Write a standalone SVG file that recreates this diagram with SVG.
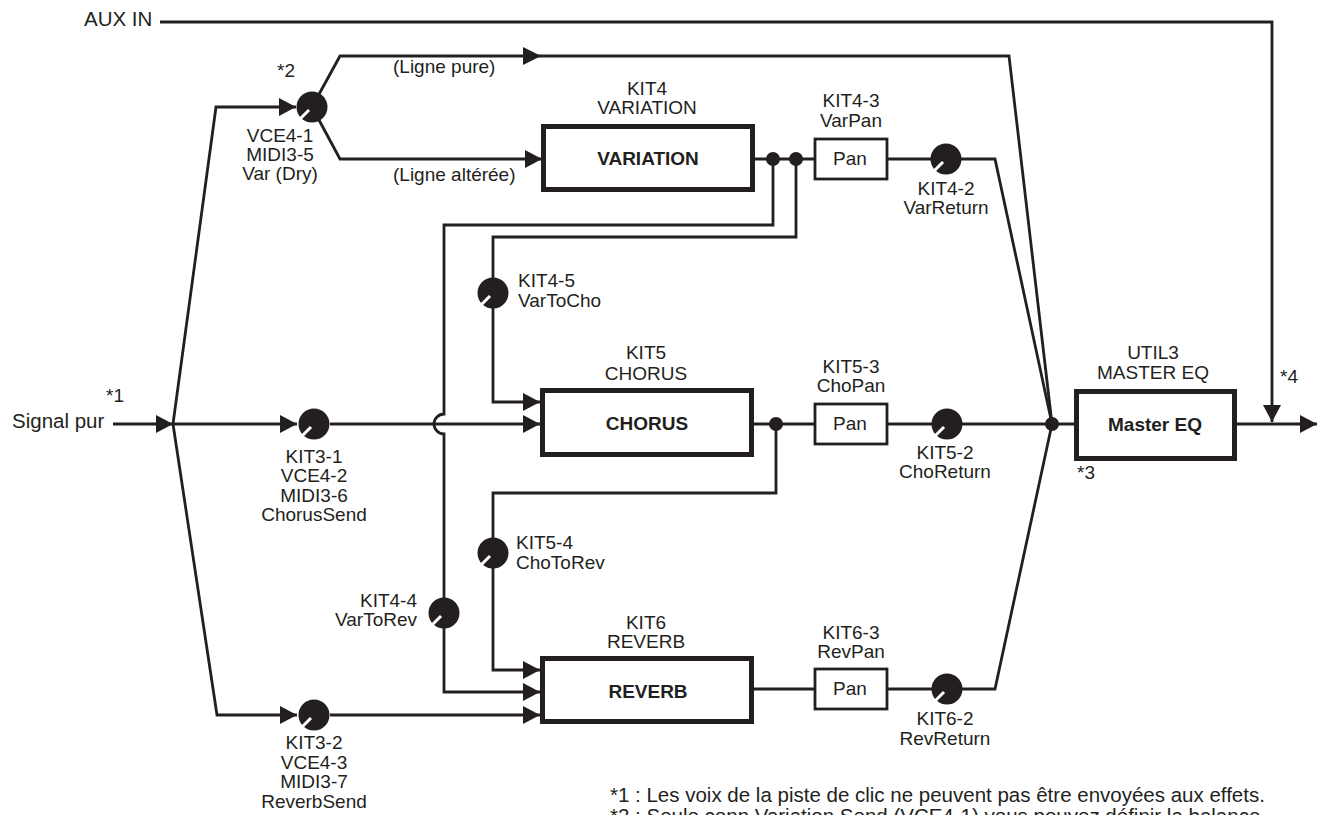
<svg xmlns="http://www.w3.org/2000/svg" width="1323" height="815" viewBox="0 0 1323 815">
<style>
text{font-family:"Liberation Sans",Arial,Helvetica,sans-serif;font-size:19px;fill:#231f20}
.big{font-size:20.5px}
.c{text-anchor:middle}
.e{text-anchor:end}
.b{font-weight:bold;font-size:19px}
.ln{fill:none;stroke:#231f20;stroke-width:2.8;stroke-linejoin:miter}
.box{fill:#fff;stroke:#231f20;stroke-width:5}
.pan{fill:#fff;stroke:#231f20;stroke-width:2.8}
.dot{fill:#231f20}
.knob{fill:#231f20}
.tick{stroke:#fff;stroke-width:3;stroke-linecap:butt}
</style>
<defs>
<marker id="ah" markerUnits="userSpaceOnUse" markerWidth="18" markerHeight="18" refX="17" refY="9" orient="auto" viewBox="0 0 18 18">
<path d="M0,0 L17,9 L0,18 z" fill="#231f20"/>
</marker>
<g id="knobShape">
<circle r="15.5" class="knob"/>
<line x1="-3" y1="3" x2="-12" y2="12" class="tick"/>
</g>
</defs>
<rect width="1323" height="815" fill="#fff"/>

<g id="connectors">
<path class="ln" d="M160,22 H1272 V422" marker-end="url(#ah)"/>
<path class="ln" d="M113,424 H173" marker-end="url(#ah)"/>
<path class="ln" d="M173,424 H297" marker-end="url(#ah)"/>
<path class="ln" d="M173,424 L216,107 H296" marker-end="url(#ah)"/>
<path class="ln" d="M173,424 L217,715 H297" marker-end="url(#ah)"/>
<path class="ln" d="M312,107 L340,56 H1009 L1052,424"/>
<path d="M523,47 L541,56 L523,65 z" fill="#231f20"/>
<path class="ln" d="M312,107 L340,159 H542" marker-end="url(#ah)"/>
<path class="ln" d="M755,159 H815"/>
<path class="ln" d="M887,159 H995 L1052,424"/>
<path class="ln" d="M773,159 V225 H444 V414 A10,10 0 0 0 444,434 V692 H540" marker-end="url(#ah)"/>
<path class="ln" d="M796,159 V237 H493 V402 H540" marker-end="url(#ah)"/>
<path class="ln" d="M330,424 H540" marker-end="url(#ah)"/>
<path class="ln" d="M753,424 H815"/>
<path class="ln" d="M887,424 H1074"/>
<path class="ln" d="M776,424 V493 H493 V670 H540" marker-end="url(#ah)"/>
<path class="ln" d="M330,715 H540" marker-end="url(#ah)"/>
<path class="ln" d="M753,689 H815"/>
<path class="ln" d="M887,689 H995 L1052,424"/>
<path class="ln" d="M1237,424 H1317" marker-end="url(#ah)"/>
<circle cx="773" cy="159" r="7" class="dot"/>
<circle cx="796" cy="159" r="7" class="dot"/>
<circle cx="776" cy="424" r="7" class="dot"/>
<circle cx="1052" cy="424" r="7" class="dot"/>
</g>

<g id="aux-in"><text class="big" x="84" y="26">AUX IN</text></g>
<g id="signal-pur"><text class="big" x="12" y="428">Signal pur</text><text x="106" y="402">*1</text></g>

<g id="knob-var-dry">
<use href="#knobShape" x="312" y="107"/>
<text class="c" x="286" y="77">*2</text>
<text class="c" x="280" y="142">VCE4-1</text>
<text class="c" x="280" y="161">MIDI3-5</text>
<text class="c" x="280" y="180">Var (Dry)</text>
</g>
<g id="labels-lines">
<text x="393" y="73">(Ligne pure)</text>
<text x="393" y="181">(Ligne altérée)</text>
</g>

<g id="variation">
<rect class="box" x="543.5" y="126.5" width="209" height="63"/>
<text class="c b" x="648" y="165">VARIATION</text>
<text class="c" x="647" y="95">KIT4</text>
<text class="c" x="647" y="114">VARIATION</text>
</g>
<g id="var-pan">
<rect class="pan" x="815" y="139" width="72" height="40"/>
<text class="c" x="850" y="165">Pan</text>
<text class="c" x="851" y="107">KIT4-3</text>
<text class="c" x="851" y="127">VarPan</text>
</g>
<g id="knob-var-return">
<use href="#knobShape" x="946" y="159"/>
<text class="c" x="946" y="195">KIT4-2</text>
<text class="c" x="946" y="214">VarReturn</text>
</g>
<g id="knob-var-to-cho">
<use href="#knobShape" x="493" y="293"/>
<text x="518" y="287">KIT4-5</text>
<text x="518" y="307">VarToCho</text>
</g>

<g id="knob-chorus-send">
<use href="#knobShape" x="314" y="424"/>
<text class="c" x="314" y="463">KIT3-1</text>
<text class="c" x="314" y="482">VCE4-2</text>
<text class="c" x="314" y="502">MIDI3-6</text>
<text class="c" x="314" y="521">ChorusSend</text>
</g>
<g id="chorus">
<rect class="box" x="542.5" y="390.5" width="209" height="64"/>
<text class="c b" x="647" y="430">CHORUS</text>
<text class="c" x="646" y="359">KIT5</text>
<text class="c" x="646" y="380">CHORUS</text>
</g>
<g id="cho-pan">
<rect class="pan" x="815" y="404" width="72" height="40"/>
<text class="c" x="850" y="430">Pan</text>
<text class="c" x="851" y="373">KIT5-3</text>
<text class="c" x="851" y="392">ChoPan</text>
</g>
<g id="knob-cho-return">
<use href="#knobShape" x="947" y="424"/>
<text class="c" x="945" y="459">KIT5-2</text>
<text class="c" x="945" y="478">ChoReturn</text>
</g>
<g id="master-eq">
<rect class="box" x="1076.5" y="391.5" width="158" height="67"/>
<text class="c b" x="1155" y="431">Master EQ</text>
<text class="c" x="1153" y="359">UTIL3</text>
<text class="c" x="1153" y="379">MASTER EQ</text>
<text x="1077" y="479">*3</text>
<text x="1280" y="383">*4</text>
</g>

<g id="knob-cho-to-rev">
<use href="#knobShape" x="493" y="553"/>
<text x="516" y="549">KIT5-4</text>
<text x="516" y="569">ChoToRev</text>
</g>
<g id="knob-var-to-rev">
<use href="#knobShape" x="444" y="613"/>
<text class="e" x="417" y="607">KIT4-4</text>
<text class="e" x="417" y="626">VarToRev</text>
</g>
<g id="reverb">
<rect class="box" x="542.5" y="658.5" width="209" height="63"/>
<text class="c b" x="648" y="698">REVERB</text>
<text class="c" x="646" y="629">KIT6</text>
<text class="c" x="646" y="648">REVERB</text>
</g>
<g id="rev-pan">
<rect class="pan" x="815" y="669" width="72" height="40"/>
<text class="c" x="850" y="695">Pan</text>
<text class="c" x="851" y="639">KIT6-3</text>
<text class="c" x="851" y="658">RevPan</text>
</g>
<g id="knob-rev-return">
<use href="#knobShape" x="947" y="689"/>
<text class="c" x="945" y="725">KIT6-2</text>
<text class="c" x="945" y="745">RevReturn</text>
</g>
<g id="knob-reverb-send">
<use href="#knobShape" x="314" y="715"/>
<text class="c" x="314" y="749">KIT3-2</text>
<text class="c" x="314" y="769">VCE4-3</text>
<text class="c" x="314" y="788">MIDI3-7</text>
<text class="c" x="314" y="808">ReverbSend</text>
</g>

<g id="footnotes">
<text class="big" x="610" y="802">*1 : Les voix de la piste de clic ne peuvent pas être envoyées aux effets.</text>
<text class="big" x="610" y="823">*2 : Seule conn Variation Send (VCE4-1) vous pouvez définir la balance</text>
</g>
</svg>
